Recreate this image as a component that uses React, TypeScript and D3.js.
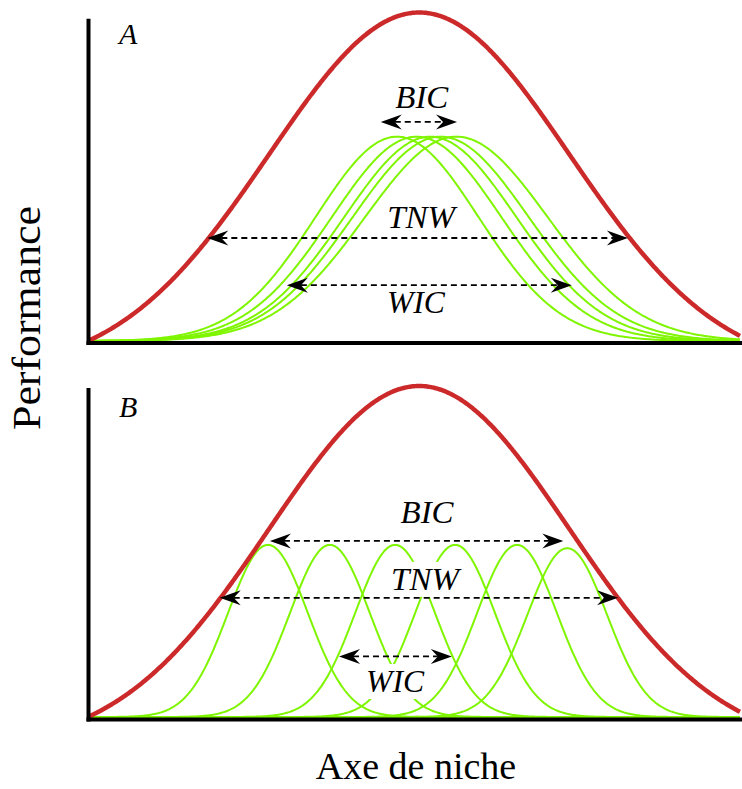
import React, { useEffect, useRef } from 'react';
import * as d3 from 'd3';

// ---------------- data ----------------
const panelIds = ['A', 'B'];
const nicheDomain: [number, number] = [0, 100];
const perfDomain: [number, number] = [0, 1];

// total niche (population) performance curve, per panel
const popCenter = [50.8, 50.8];
const popSigma = [23.0, 23.0];
const popHalfWidth = [50.8, 50.8];

// individual niches, panel A (broad, overlapping)
const indivACenter = [47.4, 50.4, 52.5, 54.1, 56.5];
const indivASigma = [12.5, 13.0, 13.2, 13.5, 14.0];
const indivAPeak = [0.622, 0.622, 0.622, 0.622, 0.622];

// individual niches, panel B (narrow, spread out)
const indivBCenter = [27.6, 37.1, 47.1, 56.3, 65.8, 73.5];
const indivBSigma = [6.1, 6.1, 6.1, 6.1, 6.1, 6.1];
const indivBPeak = [0.52, 0.52, 0.52, 0.52, 0.52, 0.51];

// annotation arrows
const arrowPanel = [0, 0, 0, 1, 1, 1];
const arrowLevel = [0.667, 0.3135, 0.170, 0.532, 0.36, 0.183];
const arrowFrom = [44.9, 18.3, 30.5, 27.9, 20.2, 38.5];
const arrowTo = [56.6, 82.8, 74.2, 72.9, 81.3, 55.8];

// annotation labels
const labelPanel = [0, 0, 0, 1, 1, 1];
const labelText = ['BIC', 'TNW', 'WIC', 'BIC', 'TNW', 'WIC'];
const labelX = [51.2, 51.1, 50.3, 52.0, 51.7, 47.1];
const labelY = [0.709, 0.344, 0.085, 0.586, 0.384, 0.0755];

const xTitle = 'Axe de niche';
const yTitle = 'Performance';

// ---------------- drawing ----------------
const WIDTH = 742;
const HEIGHT = 789;
const RED = '#CC2A2A';
const GREEN = '#7FF500';
const FONT = "'Liberation Serif', Tinos, 'Times New Roman', 'DejaVu Serif', serif";

// keep the font size (glyph height) but fit the rendered width to a target width
function fitWidth(sel: d3.Selection<SVGTextElement, unknown, null, undefined>, size: number, target: number) {
  sel.style('font-size', `${size}px`);
  const w = (sel.node() as SVGTextElement).getComputedTextLength();
  if (w > target * 1.02 || w < target * 0.98) {
    sel.attr('textLength', target).attr('lengthAdjust', 'spacingAndGlyphs');
  }
}

export default function App() {
  const ref = useRef<SVGSVGElement | null>(null);

  useEffect(() => {
    const svg = d3.select(ref.current);
    svg.selectAll('*').remove();

    const x = d3.scaleLinear().domain(nicheDomain).range([88, 740]);
    const panelGeom = [
      { base: 341, top: 12.5, axisTop: 18.7, axisY: 343 },
      { base: 717, top: 386, axisTop: 388, axisY: 719.5 },
    ];
    const labelWidth: Record<string, number> = { BIC: 53, TNW: 68, WIC: 58 };

    const samples = d3.range(nicheDomain[0], nicheDomain[1] + 0.0001, 0.2);
    const gauss = (v: number, c: number, s: number) => Math.exp(-((v - c) ** 2) / (2 * s * s));

    panelIds.forEach((pid, pi) => {
      const g = panelGeom[pi];
      const y = d3.scaleLinear().domain(perfDomain).range([g.base, g.top]);
      const line = d3
        .line<[number, number]>()
        .x((d) => x(d[0]))
        .y((d) => y(d[1]))
        .curve(d3.curveLinear);

      const layer = svg.append('g');

      const centers = pi === 0 ? indivACenter : indivBCenter;
      const sigmas = pi === 0 ? indivASigma : indivBSigma;
      const peaks = pi === 0 ? indivAPeak : indivBPeak;
      centers.forEach((c, i) => {
        const pts: [number, number][] = samples.map((v) => [v, peaks[i] * gauss(v, c, sigmas[i])]);
        layer
          .append('path')
          .attr('d', line(pts))
          .attr('fill', 'none')
          .attr('stroke', GREEN)
          .attr('stroke-width', 2);
      });

      const pc = popCenter[pi];
      const ps = popSigma[pi];
      const cut = gauss(pc - popHalfWidth[pi], pc, ps);
      const popPts: [number, number][] = samples.map((v) => [
        v,
        Math.max(0, (gauss(v, pc, ps) - cut) / (1 - cut)),
      ]);
      layer
        .append('path')
        .attr('d', line(popPts))
        .attr('fill', 'none')
        .attr('stroke', RED)
        .attr('stroke-width', 4.5);

      labelText.forEach((t, i) => {
        if (labelPanel[i] !== pi) return;
        const lg = layer.append('g');
        const txt = lg
          .append('text')
          .attr('x', x(labelX[i]))
          .attr('y', y(labelY[i]))
          .attr('text-anchor', 'middle')
          .style('font-family', FONT)
          .style('font-style', 'italic')
          .attr('fill', '#000')
          .text(t);
        fitWidth(txt as any, 31, labelWidth[t]);
        const bb = (txt.node() as SVGTextElement).getBBox();
        lg.insert('rect', 'text')
          .attr('x', bb.x - 2)
          .attr('y', bb.y)
          .attr('width', bb.width + 4)
          .attr('height', bb.height)
          .attr('fill', '#fff');
      });

      arrowLevel.forEach((lv, i) => {
        if (arrowPanel[i] !== pi) return;
        const yy = y(lv);
        const x0 = x(arrowFrom[i]);
        const x1 = x(arrowTo[i]);
        const headLen = 21;
        const headHalf = 7.5;
        const notch = 14;
        layer
          .append('line')
          .attr('x1', x0 + notch)
          .attr('x2', x1 - notch)
          .attr('y1', yy)
          .attr('y2', yy)
          .attr('stroke', '#000')
          .attr('stroke-width', 1.8)
          .attr('stroke-dasharray', '6,4');
        const head = (tip: number, dir: number) =>
          `M${tip},${yy} L${tip + dir * headLen},${yy - headHalf} L${tip + dir * notch},${yy} L${tip + dir * headLen},${yy + headHalf} Z`;
        layer.append('path').attr('d', head(x0, 1)).attr('fill', '#000');
        layer.append('path').attr('d', head(x1, -1)).attr('fill', '#000');
      });

      layer
        .append('line')
        .attr('x1', 88.5)
        .attr('x2', 88.5)
        .attr('y1', g.axisTop)
        .attr('y2', g.axisY + 2)
        .attr('stroke', '#000')
        .attr('stroke-width', 4);
      layer
        .append('line')
        .attr('x1', 86.5)
        .attr('x2', 742)
        .attr('y1', g.axisY)
        .attr('y2', g.axisY)
        .attr('stroke', '#000')
        .attr('stroke-width', 4);

      layer
        .append('text')
        .attr('x', 119)
        .attr('y', pi === 0 ? 44 : 417)
        .style('font-family', FONT)
        .style('font-style', 'italic')
        .style('font-size', '30px')
        .text(pid);
    });

    const xt = svg
      .append('text')
      .attr('x', 416)
      .attr('y', 779)
      .attr('text-anchor', 'middle')
      .style('font-family', FONT)
      .text(xTitle);
    fitWidth(xt as any, 38, 203);

    const yt = svg
      .append('text')
      .attr('transform', 'translate(40,318) rotate(-90)')
      .attr('text-anchor', 'middle')
      .style('font-family', FONT)
      .text(yTitle);
    fitWidth(yt as any, 40, 224);
  }, []);

  return (
    <svg
      ref={ref}
      width={WIDTH}
      height={HEIGHT}
      viewBox={`0 0 ${WIDTH} ${HEIGHT}`}
      style={{ position: 'absolute', left: 0, top: 0, background: '#fff' }}
    />
  );
}
